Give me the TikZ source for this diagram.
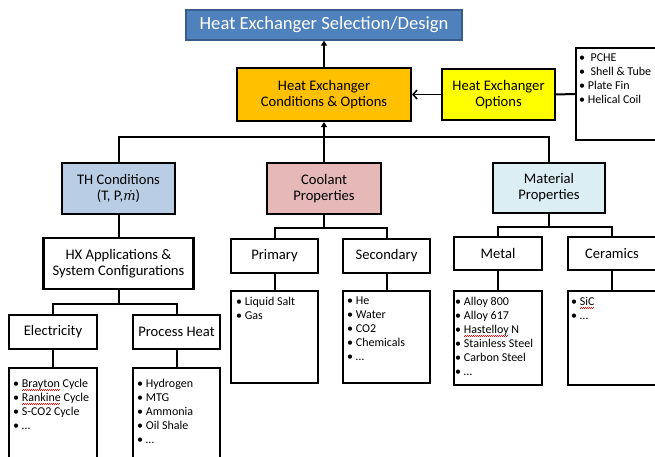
\documentclass[tikz,border=0pt]{standalone}
\usepackage{fontspec}
\setmainfont{Carlito}
\newfontfamily\dvserif{DejaVu Serif}
\usetikzlibrary{arrows.meta,calc}
\newsavebox\sqbox
\newcommand\spellsq[1]{\sbox\sqbox{#1}\rlap{\raisebox{-2.6pt}{\textcolor{red}{\leaders\hbox to 2pt{\rule[0pt]{1pt}{0.55pt}\rule[0.55pt]{1pt}{0.55pt}}\hskip\wd\sqbox}}}\usebox\sqbox}
\definecolor{titleblue}{HTML}{4F81BD}
\definecolor{titleedge}{HTML}{385D8A}
\definecolor{hxorange}{HTML}{FFC000}
\definecolor{hxyellow}{HTML}{FFFF00}
\definecolor{thblue}{HTML}{B9CDE5}
\definecolor{coolpink}{HTML}{E6B9B8}
\definecolor{matblue}{HTML}{DBEEF4}
\begin{document}
\begin{tikzpicture}[x=1pt,y=-1pt,
  box/.style={draw=black,line width=2.2pt,align=center,inner sep=0pt,font=\fontsize{14.6}{16}\selectfont},
  lst/.style={draw=black,line width=2.2pt,inner sep=0pt},
  ltxt/.style={anchor=north west,align=left,inner sep=0pt,font=\fontsize{12}{14}\selectfont},
  conn/.style={line width=2pt},
  uparrow/.style={line width=2pt,-{Triangle[length=5pt,width=6pt]}},
  openarrow/.style={line width=1.5pt,-{Straight Barb[length=4pt,width=9pt]}}
]
\useasboundingbox (0,0) rectangle (655,457);
\clip (0,0) rectangle (655,457);

% top level
\node[box,fill=titleblue,draw=titleedge,line width=1.3pt,text=white,minimum width=276,minimum height=30,font=\fontsize{18.6}{20}\selectfont] (title) at (324,25) {Heat Exchanger Selection/Design};
\node[box,fill=hxorange,minimum width=174,minimum height=53] (hxco) at (324,94.5) {Heat Exchanger\\Conditions \& Options};
\node[box,fill=hxyellow,minimum width=113,minimum height=51] (hxo) at (498.5,94.5) {Heat Exchanger\\Options};
\node[lst,minimum width=90,minimum height=92] (hxl) at (621,94) {};
\node[ltxt,font=\fontsize{12}{13.7}\selectfont] (hxlt) at (579,54) {•\ \ PCHE\\•\ \ Shell \& Tube\\• Plate Fin\\• Helical Coil};

% second level
\node[box,fill=thblue,minimum width=113,minimum height=51] (th) at (118.5,188.5) {TH Conditions\\(T, P,{\dvserif\itshape\fontsize{13}{16}\selectfont ṁ})};
\node[box,fill=coolpink,minimum width=114,minimum height=51] (cool) at (324,188.5) {Coolant\\Properties};
\node[box,fill=matblue,minimum width=112,minimum height=50] (mat) at (549,188) {Material\\Properties};

% TH branch
\node[box,minimum width=150,minimum height=51] (hx) at (118.5,263.5) {HX Applications \&\\System Configurations};
\node[box,minimum width=88,minimum height=34] (elec) at (53,332) {Electricity};
\node[box,minimum width=87,minimum height=34] (ph) at (176.5,332) {Process Heat};
\node[lst,minimum width=88,minimum height=110] (elecl) at (53,423) {};
\node[lst,minimum width=87,minimum height=110] (phl) at (176.5,423) {};
\node[ltxt] (eleclt) at (13,379) {• \spellsq{Brayton} Cycle\\• \spellsq{Rankine} Cycle\\• S-CO2 Cycle\\• …};
\node[ltxt] (phlt) at (137,379) {• Hydrogen\\• MTG\\• Ammonia\\• Oil Shale\\• …};

% Coolant branch
\node[box,minimum width=87,minimum height=34] (prim) at (274.5,256) {Primary};
\node[box,minimum width=87,minimum height=34] (sec) at (386.5,256) {Secondary};
\node[lst,minimum width=87,minimum height=92] (priml) at (274.5,337) {};
\node[lst,minimum width=87,minimum height=92] (secl) at (386.5,337) {};
\node[ltxt] (primlt) at (236,297) {• Liquid Salt\\• Gas};
\node[ltxt] (seclt) at (347,297) {• He\\• Water\\• CO2\\• Chemicals\\• …};

% Material branch
\node[box,minimum width=88,minimum height=33] (metal) at (498,253.5) {Metal};
\node[box,minimum width=88,minimum height=33] (cer) at (612,253.5) {Ceramics};
\node[lst,minimum width=88,minimum height=94] (metl) at (498,338) {};
\node[lst,minimum width=88,minimum height=94] (cerl) at (612,338) {};
\node[ltxt] (metlt) at (455,297) {• Alloy 800\\• Alloy 617\\• \spellsq{Hastelloy} N\\• Stainless Steel\\• Carbon Steel\\• …};
\node[ltxt] (cerlt) at (571,297) {• \spellsq{SiC}\\• …};

% connectors
\draw[uparrow] (hxco.north) -- (title.south);
\draw[openarrow] (hxo.west) -- (hxco.east);
\draw[conn] (hxo.east) -- (hxl.west);
\draw[uparrow] (cool.north) -- (hxco.south);
\draw[conn] (th.north) -- ++(0,-25) -| (mat.north);

\draw[conn] (th.south) -- (hx.north);
\draw[conn] (hx.south) -- ++(0,14);
\draw[conn] (elec.north) |- ($(hx.south)+(0,14)$) -| (ph.north);
\draw[conn] (elec.south) -- (elecl.north);
\draw[conn] (ph.south) -- (phl.north);

\draw[conn] (cool.south) -- ++(0,13);
\draw[conn] (prim.north) |- ($(cool.south)+(0,13)$) -| (sec.north);
\draw[conn] (prim.south) -- (priml.north);
\draw[conn] (sec.south) -- (secl.north);

\draw[conn] (mat.south) -- ++(0,13);
\draw[conn] (metal.north) |- ($(mat.south)+(0,13)$) -| (cer.north);
\draw[conn] (metal.south) -- (metl.north);
\draw[conn] (cer.south) -- (cerl.north);
\end{tikzpicture}
\end{document}
